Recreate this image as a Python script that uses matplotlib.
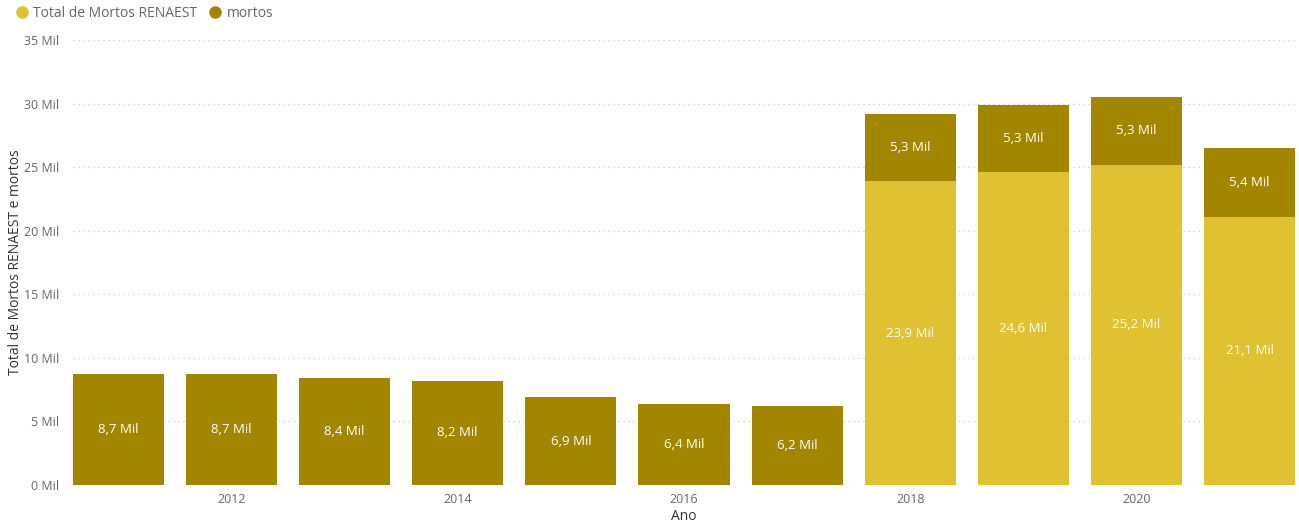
import matplotlib
matplotlib.use("Agg")
import matplotlib.pyplot as plt
from matplotlib.lines import Line2D

plt.rcParams['font.family'] = ['Open Sans', 'DejaVu Sans']

anos = [2011, 2012, 2013, 2014, 2015, 2016, 2017, 2018, 2019, 2020, 2021]
renaest = [0, 0, 0, 0, 0, 0, 0, 23.9, 24.6, 25.2, 21.1]
mortos = [8.7, 8.7, 8.4, 8.2, 6.9, 6.4, 6.2, 5.3, 5.3, 5.3, 5.4]
xticks = [2012, 2014, 2016, 2018, 2020]
yticks = [0, 5, 10, 15, 20, 25, 30, 35]

c_ren = '#E0C132'
c_mor = '#A38600'

fig = plt.figure(figsize=(12.99, 5.24), dpi=100)
ax = fig.add_axes([73/1299, 1-485/524, (1295-73)/1299, (485-40)/524])

w = 0.805
ax.bar(anos, renaest, width=w, color=c_ren, zorder=2)
ax.bar(anos, mortos, width=w, bottom=renaest, color=c_mor, zorder=2)

def fmt(v):
    return f"{v:.1f}".replace('.', ',') + " Mil"

for x, r, m in zip(anos, renaest, mortos):
    if r > 0:
        ax.text(x, r/2, fmt(r), ha='center', va='center', color='white', fontsize=9.5, zorder=3)
    ax.text(x, r + m/2, fmt(m), ha='center', va='center', color='white', fontsize=9.5, zorder=3)

ax.set_xlim(anos[0] - 0.4, anos[-1] + 0.4)
ax.set_ylim(0, 35)
ax.set_yticks(yticks)
ax.set_yticklabels([f"{t} Mil" for t in yticks])
ax.set_xticks(xticks)
ax.set_xticklabels([str(t) for t in xticks])
ax.tick_params(axis='both', length=0, colors='#666666', labelsize=9)
ax.tick_params(axis='y', pad=10)
ax.tick_params(axis='x', pad=6)
ax.grid(axis='y', color='#C8C8C8', linestyle=(0, (1, 3)), linewidth=0.9, zorder=0)
for s in ax.spines.values():
    s.set_visible(False)

ax.set_xlabel('Ano', color='#333333', fontsize=10)
ax.xaxis.set_label_coords(0.5, (485-517)/445)
ax.xaxis.label.set_va('center')
ax.set_ylabel('Total de Mortos RENAEST e mortos', color='#333333', fontsize=10)
ax.yaxis.set_label_coords((16-73)/1222, 0.5)
ax.yaxis.label.set_va('center')

handles = [Line2D([0], [0], marker='o', linestyle='', markersize=8, markerfacecolor=c_ren, markeredgecolor=c_ren),
           Line2D([0], [0], marker='o', linestyle='', markersize=8, markerfacecolor=c_mor, markeredgecolor=c_mor)]
fig.legend(handles, ['Total de Mortos RENAEST', 'mortos'], loc='upper left', bbox_to_anchor=(0.0, 1.005),
           ncol=2, frameon=False, fontsize=10, labelcolor='#666666', handletextpad=-0.2, columnspacing=0.3,
           borderaxespad=0.2)

fig.savefig('out.png', dpi=100)
